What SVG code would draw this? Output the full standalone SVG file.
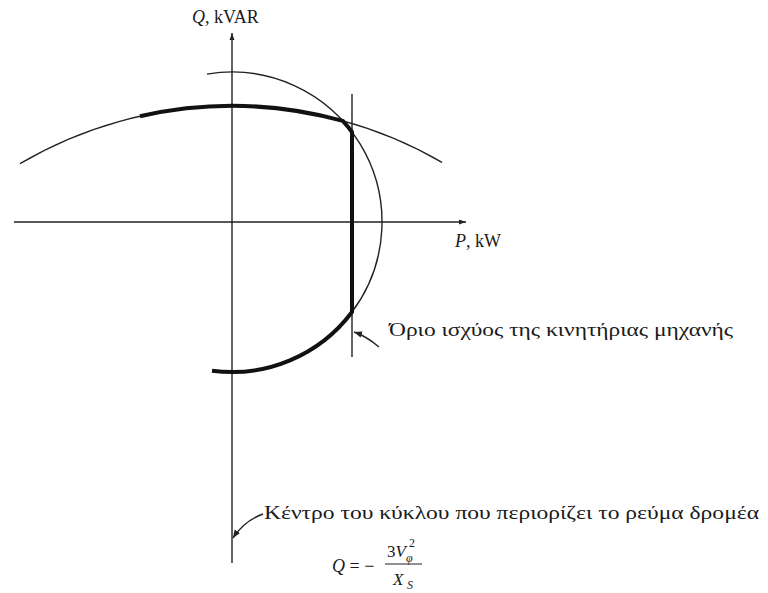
<svg xmlns="http://www.w3.org/2000/svg" width="768" height="593" viewBox="0 0 768 593">
  <style>
    .thin { fill: none; stroke: #222; stroke-width: 1.4; }
    .thick { fill: none; stroke: #111; stroke-width: 4; stroke-linejoin: round; stroke-linecap: butt; }
    .axis { fill: none; stroke: #222; stroke-width: 1.4; }
    .lbl { font-family: "Liberation Serif", "Times New Roman", serif; fill: #1a1a1a; }
    .it { font-style: italic; }
  </style>
  <defs>
    <marker id="ah" viewBox="0 0 10 10" refX="10" refY="5" markerWidth="7" markerHeight="7" orient="auto" markerUnits="userSpaceOnUse">
      <path d="M0,1.5 L10,5 L0,8.5 z" fill="#222"/>
    </marker>
    <marker id="lh" viewBox="0 0 10 10" refX="10" refY="5" markerWidth="8" markerHeight="8" orient="auto" markerUnits="userSpaceOnUse">
      <path d="M0,1 L10,5 L0,9 z" fill="#222"/>
    </marker>
  </defs>
  <rect width="768" height="593" fill="#ffffff"/>

  <g id="axes">
    <line class="axis" x1="232" y1="563" x2="232" y2="33" marker-end="url(#ah)"/>
    <line class="axis" x1="14" y1="222" x2="466" y2="222" marker-end="url(#ah)"/>
  </g>

  <g id="field-current-limit">
    <path class="thin" d="M20,163.6 A419,419 0 0,1 442,162.4"/>
  </g>

  <g id="armature-current-limit">
    <path class="thin" d="M207,74.1 A150,150 0 0,1 352,312"/>
  </g>

  <g id="prime-mover-limit">
    <line class="thin" x1="352" y1="94" x2="352" y2="357"/>
  </g>

  <g id="capability-boundary">
    <path class="thick" d="M140,116.2 A419,419 0 0,1 342.8,120.9 A150,150 0 0,1 352,132 L352,312 A150,150 0 0,1 212,370.7"/>
  </g>

  <g id="connectors">
    <path class="thin" d="M379,347 Q366,336 354,332" marker-end="url(#lh)"/>
    <path class="thin" d="M263,514 Q244,521 233,538" marker-end="url(#lh)"/>
  </g>

  <g id="label-q">
    <text class="lbl" x="192" y="23" font-size="18"><tspan class="it">Q</tspan>, kVAR</text>
  </g>
  <g id="label-p">
    <text class="lbl" x="455" y="247" font-size="18"><tspan class="it">P</tspan>, kW</text>
  </g>
  <g id="label-prime-mover">
    <text class="lbl" x="389" y="336" font-size="18" textLength="344" lengthAdjust="spacingAndGlyphs">Όριο ισχύος της κινητήριας μηχανής</text>
  </g>
  <g id="label-center">
    <text class="lbl" x="264" y="519" font-size="19" textLength="495" lengthAdjust="spacingAndGlyphs">Κέντρο του κύκλου που περιορίζει το ρεύμα δρομέα</text>
  </g>
  <g id="formula">
    <text class="lbl" x="332" y="572" font-size="18"><tspan class="it">Q</tspan> = −</text>
    <text class="lbl" x="387" y="557" font-size="17">3<tspan class="it">V</tspan></text>
    <text class="lbl it" x="406" y="562" font-size="12">φ</text>
    <text class="lbl" x="409" y="547" font-size="12">2</text>
    <line x1="385" y1="564" x2="422" y2="564" stroke="#222" stroke-width="1.2"/>
    <text class="lbl it" x="393" y="585" font-size="17">X</text>
    <text class="lbl it" x="407" y="589" font-size="12">S</text>
  </g>
</svg>
